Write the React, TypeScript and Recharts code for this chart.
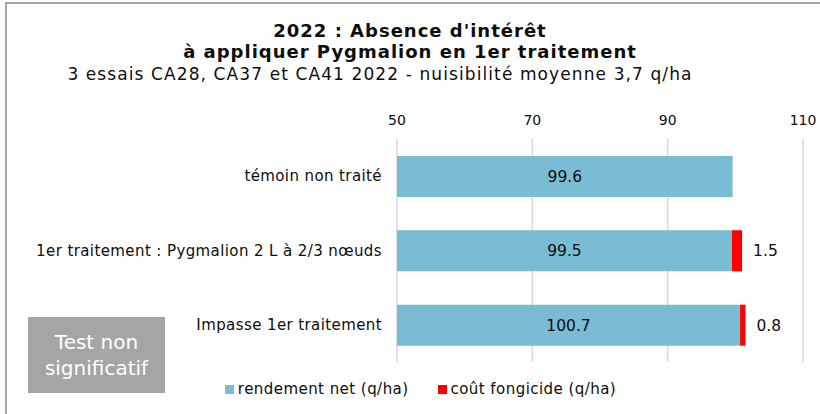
import React from "react";
import { BarChart, Bar, XAxis, YAxis, CartesianGrid, LabelList, Legend } from "recharts";

const categories = [
  "témoin non traité",
  "1er traitement : Pygmalion 2 L à 2/3 nœuds",
  "Impasse 1er traitement",
];
const rendementNet = [99.6, 99.5, 100.7];
const coutFongicide = [null, 1.5, 0.8];
const xTicks = [50, 70, 90, 110];

const BLUE = "#7bbcd5";
const RED = "#ff0000";
const FONT = "'DejaVu Sans', Verdana, sans-serif";

const data = categories.map((name, i) => ({
  name,
  net: rendementNet[i],
  cout: coutFongicide[i],
}));

const legendItems = [
  { label: "rendement net (q/ha)", color: BLUE },
  { label: "coût fongicide (q/ha)", color: RED },
];

const renderLegend = () => (
  <div style={{ display: "flex", justifyContent: "center", gap: 29, paddingLeft: 38, fontFamily: FONT, fontSize: 15, letterSpacing: 0.45, color: "#0d0d0d" }}>
    {legendItems.map((it) => (
      <div key={it.label} style={{ display: "flex", alignItems: "center" }}>
        <span style={{ display: "inline-block", width: 9, height: 9, background: it.color, marginRight: 4 }} />
        {it.label}
      </div>
    ))}
  </div>
);

export default function App() {
  return (
    <div style={{ position: "fixed", left: 0, top: 0, width: 820, height: 414, overflow: "hidden", background: "#fff", fontFamily: FONT }}>
      <style>{"body{margin:0;overflow:hidden}.recharts-surface{overflow:visible}"}</style>
      <div style={{ position: "absolute", left: 5, top: 2, width: 813, height: 410, borderLeft: "2px solid #a6a6a6", borderTop: "2px solid #a6a6a6" }} />
      <div style={{ position: "absolute", left: 0, width: 820, top: 20, textAlign: "center", fontWeight: "bold", fontSize: 18, letterSpacing: 1, lineHeight: "21px", color: "#0d0d0d" }}>
        2022 : Absence d'intérêt
        <br />
        à appliquer Pygmalion en 1er traitement
      </div>
      <div style={{ position: "absolute", left: 0, width: 760, top: 64, textAlign: "center", fontSize: 17, letterSpacing: 1.1, color: "#0d0d0d" }}>
        3 essais CA28, CA37 et CA41 2022 - nuisibilité moyenne 3,7 q/ha
      </div>
      <div style={{ position: "absolute", left: 0, top: 0 }}>
        <BarChart
          width={820}
          height={414}
          data={data}
          layout="vertical"
          margin={{ top: 109, right: 17, bottom: 34, left: 0 }}
          barSize={41}
        >
          <CartesianGrid horizontal={false} stroke="#d9d9d9" strokeWidth={1.5} />
          <XAxis
            type="number"
            orientation="top"
            domain={[50, 110]}
            ticks={xTicks}
            allowDataOverflow
            axisLine={false}
            tickLine={false}
            tickMargin={8}
            height={30}
            tick={{ fill: "#0d0d0d", fontSize: 14, fontFamily: FONT }}
          />
          <YAxis
            type="category"
            dataKey="name"
            width={397}
            axisLine={false}
            tickLine={false}
            tickMargin={9}
            tick={{ fill: "#0d0d0d", fontSize: 15, letterSpacing: 0.4, fontFamily: FONT }}
          />
          <Legend content={renderLegend} verticalAlign="bottom" wrapperStyle={{ bottom: 16 }} />
          <Bar dataKey="net" stackId="a" fill={BLUE} isAnimationActive={false}>
            <LabelList dataKey="net" position="center" fill="#0d0d0d" fontSize={15.5} fontFamily={FONT} />
          </Bar>
          <Bar dataKey="cout" stackId="a" fill={RED} isAnimationActive={false}>
            <LabelList dataKey="cout" position="right" offset={11} fill="#0d0d0d" fontSize={15.5} fontFamily={FONT} />
          </Bar>
        </BarChart>
      </div>
      <div style={{ position: "absolute", left: 28, top: 317, width: 137, height: 76, background: "#a5a5a5", color: "#fff", fontFamily: FONT, fontSize: 20, lineHeight: "26px", display: "flex", alignItems: "center", justifyContent: "center", textAlign: "center" }}>
        Test non
        <br />
        significatif
      </div>
    </div>
  );
}
